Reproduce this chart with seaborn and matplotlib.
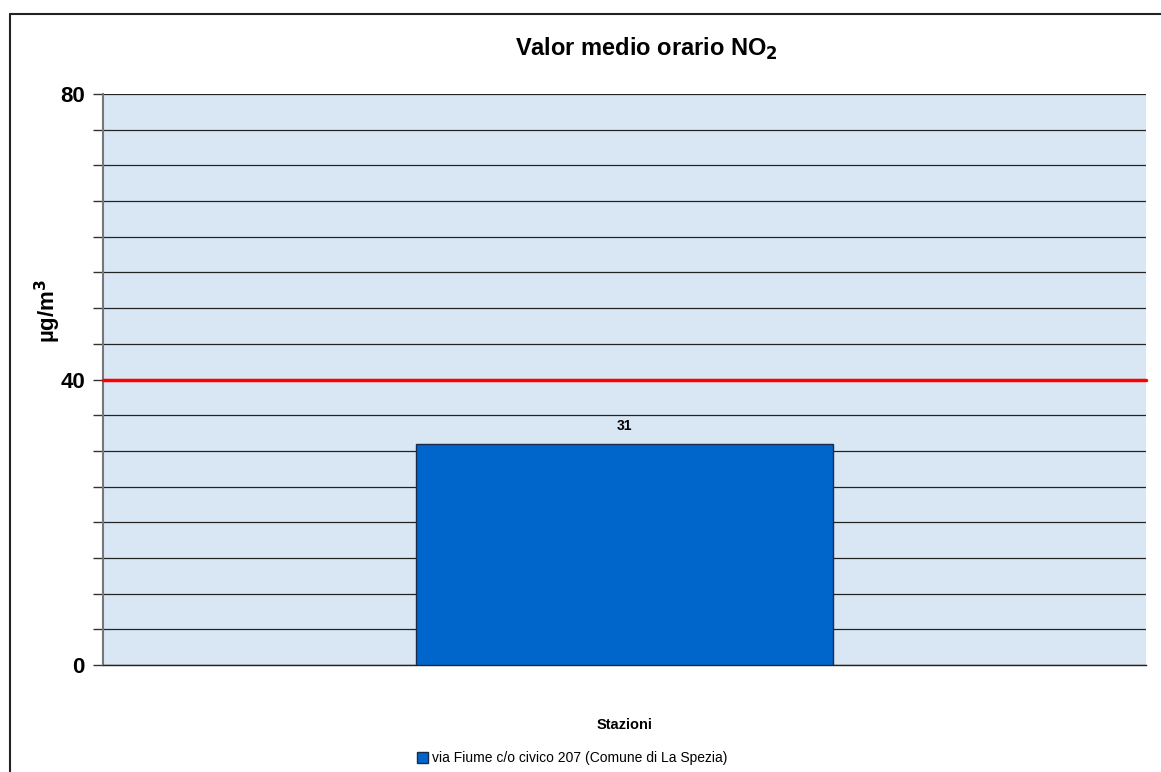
import numpy as np
import pandas as pd
import matplotlib.pyplot as plt
import seaborn as sns
from matplotlib.lines import Line2D

# dati
stazioni = ["via Fiume c/o civico 207 (Comune di La Spezia)"]
valori = [31]
limite = 40
y_ticks = [0, 40, 80]

df = pd.DataFrame({"Stazione": stazioni, "Valore": valori})

sns.set_style("white")
plt.rcParams["font.family"] = ["Liberation Sans", "DejaVu Sans"]
plt.rcParams["text.color"] = "black"
plt.rcParams["axes.labelcolor"] = "black"
plt.rcParams["ytick.color"] = "black"

fig = plt.figure(figsize=(11.61, 7.72), dpi=100)
ax = fig.add_axes([0.0887, 0.1386, 0.8984, 0.7396])
ax.set_facecolor("#d9e7f5")

sns.barplot(data=df, x="Stazione", y="Valore", hue="Stazione", ax=ax,
            palette=["#0066cc"], saturation=1, width=0.6,
            edgecolor="#1a2a4a", linewidth=1, legend=True, zorder=3)

ax.set_ylim(0, 80)
ax.set_xlim(-0.75, 0.75)
ax.set_yticks(y_ticks)
ax.set_yticks(np.arange(0, 81, 5), minor=True)
ax.set_yticklabels([str(t) for t in y_ticks], fontsize=16, fontweight="bold")
ax.tick_params(axis="y", which="both", direction="out", length=7, width=1,
               color="#333333", left=True, pad=6)
ax.set_xticks([])
ax.grid(axis="y", which="both", color="#222222", linewidth=0.9, zorder=1)
ax.set_axisbelow(True)

for s in ["top", "right"]:
    ax.spines[s].set_visible(False)
ax.spines["left"].set_color("#777777")
ax.spines["left"].set_linewidth(1.5)
ax.spines["bottom"].set_color("#222222")
ax.spines["bottom"].set_linewidth(1)

# linea limite
ax.axhline(limite, color="#ff0000", linewidth=2.5, zorder=4, clip_on=False)

# etichetta valore
for c in ax.containers:
    ax.bar_label(c, fmt="%d", padding=8, fontsize=10, fontweight="bold")

ax.set_xlabel("Stazioni", fontsize=10.5, fontweight="bold", labelpad=38)
ax.set_ylabel("µg/m$^{\\mathbf{3}}$", fontsize=16, fontweight="bold")
ax.yaxis.set_label_coords(-0.038, 0.62)
fig.text(0.557, 0.937, "Valor medio orario NO$_{\\mathbf{2}}$", ha="center",
         va="center", fontsize=17, fontweight="bold")

leg = ax.legend(loc="center", bbox_to_anchor=(0.45, -0.163), frameon=False,
                fontsize=10, handlelength=0.8, handleheight=0.8,
                handletextpad=0.3, borderaxespad=0)

# cornice
fig.add_artist(Line2D([10 / 1161, 10 / 1161], [0, 1 - 14 / 772],
                      transform=fig.transFigure, color="#222222", linewidth=1.5))
fig.add_artist(Line2D([10 / 1161, 1], [1 - 14 / 772, 1 - 14 / 772],
                      transform=fig.transFigure, color="#222222", linewidth=1.5))

fig.savefig("out.png", dpi=100)
